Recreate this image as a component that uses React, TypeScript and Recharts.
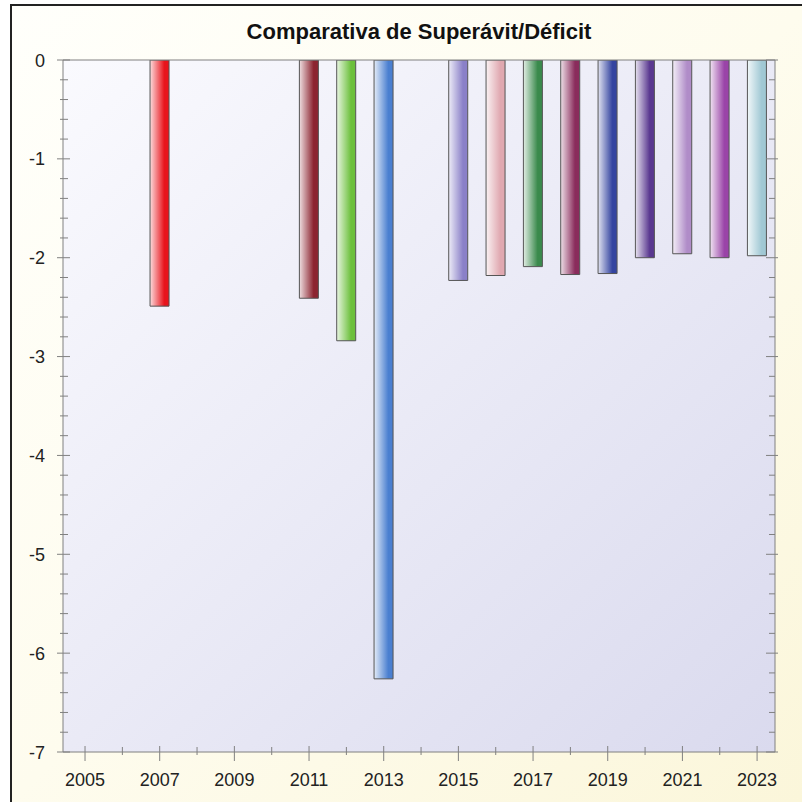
import React from "react";
import { Bar, BarChart, CartesianGrid, Cell, XAxis, YAxis } from "recharts";

const years = [2007, 2011, 2012, 2013, 2015, 2016, 2017, 2018, 2019, 2020, 2021, 2022, 2023];
const balance = [-2.49, -2.41, -2.84, -6.26, -2.23, -2.18, -2.09, -2.17, -2.16, -2.0, -1.96, -2.0, -1.98];
const barColors = [
  "#e8141c", "#8c2430", "#6cc03c", "#4a7fd0", "#8a80c8", "#e0a8b0", "#3a8a4c",
  "#8a2c5c", "#3444a0", "#5a3890", "#b08cc8", "#9a44a8", "#a0c8d4",
];
const xTicks = [2005, 2006, 2007, 2008, 2009, 2010, 2011, 2012, 2013, 2014, 2015, 2016, 2017, 2018, 2019, 2020, 2021, 2022, 2023];
const yTicks = Array.from({ length: 36 }, (_, i) => Math.round(-i * 2) / 10);

const data = years.map((year, i) => ({ year, value: balance[i] }));

const FONT = "'Liberation Sans', Arial, sans-serif";
const AXIS = "#808080";

function tint(hex: string, amt: number) {
  const n = parseInt(hex.slice(1), 16);
  const r = (n >> 16) & 255, g = (n >> 8) & 255, b = n & 255;
  const m = (c: number) => Math.round(c + (255 - c) * amt);
  return `rgb(${m(r)},${m(g)},${m(b)})`;
}

const isMajor = (v: number) => Math.abs(v - Math.round(v)) < 1e-6;

function BottomTick({ x, y, payload }: any) {
  const labeled = payload.value % 2 === 1;
  return (
    <g>
      <line x1={x} x2={x} y1={labeled ? y - 6 : y - 5} y2={labeled ? y + 9 : y + 3} stroke={AXIS} />
      {labeled && (
        <text x={x} y={y + 34} textAnchor="middle" fontSize={18} fill="#222" fontFamily={FONT}>
          {payload.value}
        </text>
      )}
    </g>
  );
}

function TopTick({ x, y }: any) {
  return <line x1={x} x2={x} y1={y} y2={y + 6} stroke={AXIS} />;
}

function LeftTick({ x, y, payload }: any) {
  const major = isMajor(payload.value);
  return (
    <g>
      <line x1={major ? x - 6 : x - 3} x2={major ? x + 7 : x + 5} y1={y} y2={y} stroke={AXIS} />
      {major && (
        <text x={x - 18} y={y + 6.5} textAnchor="end" fontSize={18} fill="#222" fontFamily={FONT}>
          {Math.round(payload.value)}
        </text>
      )}
    </g>
  );
}

function RightTick({ x, y, payload }: any) {
  const major = isMajor(payload.value);
  return <line x1={major ? x - 9 : x - 6} x2={major ? x + 3 : x} y1={y} y2={y} stroke={AXIS} />;
}

export default function App() {
  return (
    <div
      style={{
        position: "absolute",
        left: 10,
        top: 4,
        width: 790,
        height: 796,
        borderLeft: "2px solid #222",
        borderTop: "2px solid #222",
        background: "linear-gradient(135deg, #fffffb 0%, #fefcee 50%, #fbf6da 100%)",
        overflow: "hidden",
      }}
    >
      <div
        style={{
          position: "absolute",
          left: 51,
          width: 712,
          top: 13,
          textAlign: "center",
          fontFamily: FONT,
          fontWeight: 700,
          fontSize: 22,
          lineHeight: "26px",
          color: "#111",
        }}
      >
        Comparativa de Superávit/Déficit
      </div>
      <BarChart width={790} height={796} data={data} margin={{ top: 24, right: 0, bottom: 0, left: 0 }}>
        <defs>
          <linearGradient id="plotBg" x1="0" y1="0" x2="1" y2="1">
            <stop offset="0%" stopColor="#fafafe" />
            <stop offset="100%" stopColor="#dadaee" />
          </linearGradient>
          {barColors.map((c, i) => (
            <linearGradient key={i} id={`bar${i}`} x1="0" y1="0" x2="1" y2="0">
              <stop offset="0%" stopColor={tint(c, 0.85)} />
              <stop offset="75%" stopColor={c} />
              <stop offset="100%" stopColor={c} />
            </linearGradient>
          ))}
        </defs>
        <CartesianGrid horizontal={false} vertical={false} fill="url(#plotBg)" />
        <XAxis
          dataKey="year"
          type="number"
          domain={[2004.41, 2023.48]}
          allowDataOverflow
          ticks={xTicks}
          interval={0}
          height={50}
          tickSize={0}
          tickMargin={0}
          tickLine={false}
          axisLine={{ stroke: AXIS }}
          tick={<BottomTick />}
        />
        <XAxis
          xAxisId="top"
          orientation="top"
          type="number"
          domain={[2004.41, 2023.48]}
          allowDataOverflow
          ticks={xTicks}
          interval={0}
          height={30}
          tickSize={0}
          tickMargin={0}
          tickLine={false}
          axisLine={{ stroke: AXIS }}
          tick={<TopTick />}
        />
        <YAxis
          type="number"
          domain={[-7, 0]}
          allowDataOverflow
          ticks={yTicks}
          interval={0}
          width={51}
          tickSize={0}
          tickMargin={0}
          tickLine={false}
          axisLine={{ stroke: AXIS }}
          tick={<LeftTick />}
        />
        <YAxis
          yAxisId="right"
          orientation="right"
          type="number"
          domain={[-7, 0]}
          allowDataOverflow
          ticks={yTicks}
          interval={0}
          width={27}
          tickSize={0}
          tickMargin={0}
          tickLine={false}
          axisLine={{ stroke: AXIS }}
          tick={<RightTick />}
        />
        <Bar dataKey="value" barSize={19} stroke="#555" strokeWidth={1} isAnimationActive={false}>
          {data.map((d, i) => (
            <Cell key={d.year} fill={`url(#bar${i})`} />
          ))}
        </Bar>
      </BarChart>
    </div>
  );
}
